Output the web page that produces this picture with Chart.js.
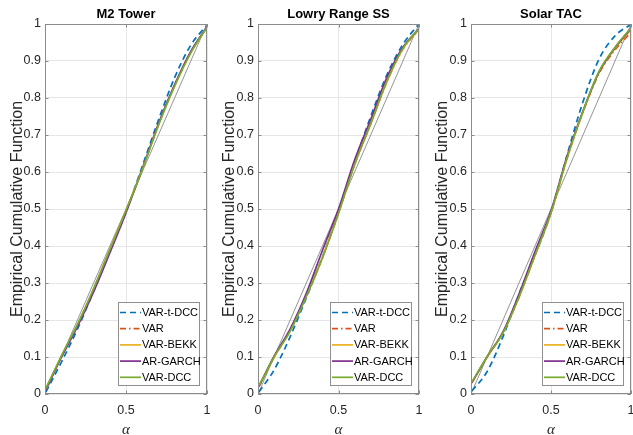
<!DOCTYPE html>
<html>
<head>
<meta charset="utf-8">
<script src="https://cdn.jsdelivr.net/npm/chart.js@4.4.1/dist/chart.umd.min.js"></script>
<style>
  body { margin: 0; background: #fff; }
  .panel { position: absolute; top: 0; height: 435px; }
</style>
</head>
<body>
<div class="panel" style="left:0;width:211px"><canvas id="p1"></canvas></div>
<div class="panel" style="left:211px;width:211px"><canvas id="p2"></canvas></div>
<div class="panel" style="left:422px;width:211px"><canvas id="p3"></canvas></div>
<script>
// alpha grid where the curves were read
const alpha = [0.005, 0.1, 0.2, 0.3, 0.4, 0.5, 0.6, 0.7, 0.8, 0.9, 0.995];
const diagonal = [0, 1];

const seriesNames = ["VAR-t-DCC", "VAR", "VAR-BEKK", "AR-GARCH", "VAR-DCC"];
const seriesColors = ["#0072BD", "#D95319", "#EDB120", "#7E2F8E", "#77AC30"];
const seriesDash = [[6, 4], [6, 3, 1.5, 3], [], [], []];

// M2 Tower
const m2Tdcc  = [0.005, 0.085, 0.175, 0.278, 0.385, 0.492, 0.615, 0.74, 0.855, 0.943, 0.995];
const m2Var   = [0.012, 0.1, 0.185, 0.282, 0.388, 0.495, 0.606, 0.728, 0.834, 0.924, 0.988];
const m2Bekk  = [0.012, 0.1, 0.186, 0.283, 0.389, 0.496, 0.607, 0.727, 0.833, 0.923, 0.988];
const m2Garch = [0.012, 0.098, 0.182, 0.276, 0.381, 0.49, 0.608, 0.73, 0.836, 0.926, 0.989];
const m2Dcc   = [0.015, 0.102, 0.188, 0.285, 0.39, 0.496, 0.606, 0.726, 0.832, 0.922, 0.988];

// Lowry Range SS
const lrTdcc  = [0.005, 0.065, 0.155, 0.26, 0.37, 0.49, 0.625, 0.75, 0.862, 0.945, 0.998];
const lrVar   = [0.02, 0.1, 0.172, 0.265, 0.368, 0.49, 0.62, 0.73, 0.843, 0.932, 0.982];
const lrBekk  = [0.02, 0.1, 0.172, 0.266, 0.369, 0.49, 0.622, 0.731, 0.844, 0.933, 0.983];
const lrGarch = [0.02, 0.102, 0.176, 0.272, 0.388, 0.5, 0.632, 0.742, 0.855, 0.937, 0.985];
const lrDcc   = [0.022, 0.1, 0.17, 0.263, 0.368, 0.488, 0.62, 0.73, 0.845, 0.934, 0.985];

// Solar TAC
const stTdcc  = [0.008, 0.06, 0.155, 0.27, 0.375, 0.49, 0.645, 0.79, 0.905, 0.968, 0.998];
const stVar   = [0.03, 0.1, 0.166, 0.262, 0.375, 0.49, 0.636, 0.762, 0.866, 0.93, 0.975];
const stBekk  = [0.03, 0.1, 0.166, 0.263, 0.376, 0.49, 0.637, 0.763, 0.869, 0.934, 0.982];
const stGarch = [0.03, 0.1, 0.168, 0.27, 0.385, 0.495, 0.642, 0.765, 0.87, 0.936, 0.985];
const stDcc   = [0.032, 0.1, 0.165, 0.262, 0.375, 0.49, 0.638, 0.764, 0.872, 0.937, 0.987];

const sans = "'Liberation Sans', Arial, sans-serif";
const axisGray = "#8c8c8c";
const fmt = (v) => String(Math.round(v * 10) / 10);

// box, inward ticks, title over the axes and the legend inside the axes
const panelDecor = {
    id: "panelDecor",
    afterDraw: (chart, args, opts) => {
        const { ctx, chartArea: a, scales } = chart;
        ctx.save();
        ctx.strokeStyle = axisGray;
        ctx.lineWidth = 1;
        ctx.strokeRect(a.left + 0.5, a.top + 0.5, a.right - a.left - 1, a.bottom - a.top - 1);
        ctx.beginPath();
        scales.y.ticks.forEach((t) => {
            const y = Math.round(scales.y.getPixelForValue(t.value)) + 0.5;
            ctx.moveTo(a.left, y); ctx.lineTo(a.left + 3.5, y);
            ctx.moveTo(a.right, y); ctx.lineTo(a.right - 3.5, y);
        });
        scales.x.ticks.forEach((t) => {
            const x = Math.round(scales.x.getPixelForValue(t.value)) + 0.5;
            ctx.moveTo(x, a.bottom); ctx.lineTo(x, a.bottom - 3.5);
            ctx.moveTo(x, a.top); ctx.lineTo(x, a.top + 3.5);
        });
        ctx.stroke();

        ctx.fillStyle = "#000";
        ctx.font = "bold 13px " + sans;
        ctx.textAlign = "center";
        ctx.textBaseline = "middle";
        ctx.fillText(opts.text, (a.left + a.right) / 2, 14);

        const w = 82, h = 84;
        const bx = a.right - 7 - w, by = a.bottom - 8 - h;
        ctx.fillStyle = "#fff";
        ctx.fillRect(bx, by, w, h);
        ctx.strokeStyle = "#909090";
        ctx.strokeRect(bx + 0.5, by + 0.5, w - 1, h - 1);
        ctx.font = "11px " + sans;
        ctx.textAlign = "left";
        chart.data.datasets.slice(0, seriesNames.length).forEach((ds, i) => {
            const y = by + 10.5 + i * 16.2;
            ctx.strokeStyle = ds.borderColor;
            ctx.lineWidth = ds.borderWidth;
            ctx.setLineDash(ds.borderDash);
            ctx.beginPath();
            ctx.moveTo(bx + 2, y); ctx.lineTo(bx + 23, y);
            ctx.stroke();
            ctx.setLineDash([]);
            ctx.fillStyle = "#000";
            ctx.fillText(ds.label, bx + 24, y + 0.5);
        });
        ctx.restore();
    },
};

function makePanel(id, title, values, leftWidth, yTitlePad, padRight) {
    const datasets = values.map((v, i) => ({
        label: seriesNames[i],
        data: alpha.map((a, j) => ({ x: a, y: v[j] })),
        borderColor: seriesColors[i],
        borderWidth: 1.7,
        borderDash: seriesDash[i],
        pointRadius: 0,
        cubicInterpolationMode: "monotone",
        order: seriesNames.length - i,
    }));
    datasets.push({
        label: "diagonal",
        data: diagonal.map((d) => ({ x: d, y: d })),
        borderColor: "#7a7a7a",
        borderWidth: 0.8,
        pointRadius: 0,
        order: 10,
    });

    new Chart(document.getElementById(id), {
        type: "line",
        data: { datasets: datasets },
        options: {
            responsive: true,
            maintainAspectRatio: false,
            animation: false,
            layout: { padding: { top: 24, right: padRight, left: 0, bottom: 0 } },
            plugins: {
                legend: { display: false },
                tooltip: { enabled: false },
                panelDecor: { text: title },
            },
            scales: {
                x: {
                    type: "linear",
                    min: 0,
                    max: 1,
                    afterFit: (s) => {
                        s.height = 41;
                        s.paddingLeft = 0;
                        s.paddingRight = 0;
                    },
                    grid: { color: "#e6e6e6", drawTicks: false },
                    border: { display: false },
                    ticks: {
                        stepSize: 0.5,
                        padding: 9,
                        maxRotation: 0,
                        color: "#262626",
                        font: { family: sans, size: 12.5 },
                        callback: fmt,
                    },
                    title: {
                        display: true,
                        text: "α",
                        color: "#262626",
                        font: { family: "'Liberation Serif', serif", style: "italic", size: 15, lineHeight: 0.6 },
                        padding: { top: 0, bottom: 0 },
                    },
                },
                y: {
                    min: 0,
                    max: 1,
                    afterFit: (s) => {
                        s.width = leftWidth;
                        s.paddingTop = 0;
                        s.paddingBottom = 0;
                    },
                    grid: { color: "#e6e6e6", drawTicks: false },
                    border: { display: false },
                    ticks: {
                        stepSize: 0.1,
                        padding: 4,
                        color: "#262626",
                        font: { family: sans, size: 12.5 },
                        callback: fmt,
                    },
                    title: {
                        display: true,
                        text: "Empirical Cumulative Function",
                        color: "#262626",
                        font: { family: sans, size: 16 },
                        padding: { top: yTitlePad, bottom: 0 },
                    },
                },
            },
        },
        plugins: [panelDecor],
    });
}

makePanel("p1", "M2 Tower", [m2Tdcc, m2Var, m2Bekk, m2Garch, m2Dcc], 45, 8.4, 4);
makePanel("p2", "Lowry Range SS", [lrTdcc, lrVar, lrBekk, lrGarch, lrDcc], 47, 9.4, 3);
makePanel("p3", "Solar TAC", [stTdcc, stVar, stBekk, stGarch, stDcc], 49, 11.4, 2);
</script>
</body>
</html>
